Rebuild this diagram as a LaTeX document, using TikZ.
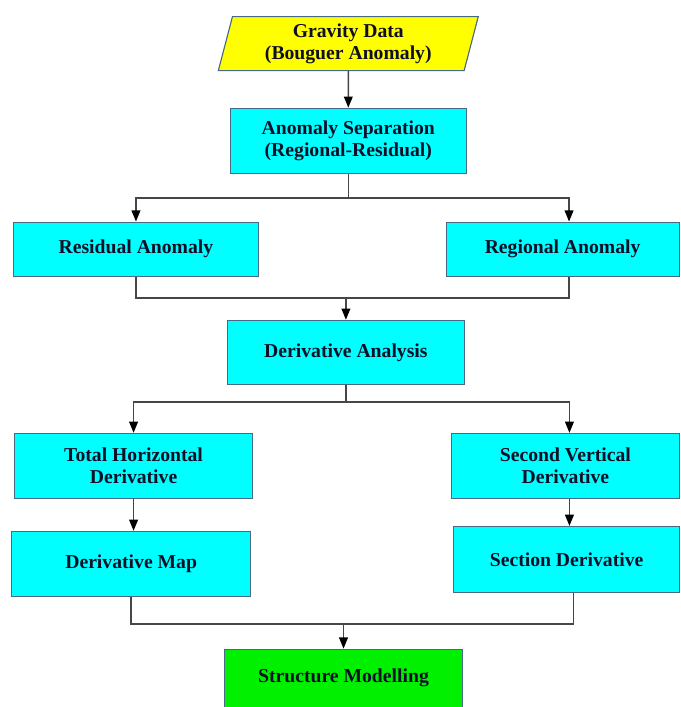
\documentclass[tikz,border=0pt]{standalone}
\usepackage{fontspec}
\setmainfont{Liberation Serif}
\usetikzlibrary{positioning,shapes.geometric,arrows.meta}

\definecolor{boxcyan}{RGB}{0,255,255}
\definecolor{boxyellow}{RGB}{255,255,0}
\definecolor{boxgreen}{RGB}{0,240,0}
\definecolor{boxedge}{RGB}{70,105,135}
\definecolor{linkgray}{RGB}{70,70,70}
\definecolor{textnavy}{RGB}{15,15,40}

\tikzstyle{box} = [rectangle, minimum width=5.95cm, minimum height=1.625cm, text centered, align=center, fill=boxcyan, draw=boxedge, line width=0.8pt, text=textnavy, font=\fontsize{14}{15.6}\selectfont\bfseries]
\tikzstyle{data} = [box, trapezium, trapezium left angle=74, trapezium right angle=106, trapezium stretches body, minimum width=6.5cm, minimum height=1.35cm, fill=boxyellow]
\tikzstyle{result} = [box, fill=boxgreen, minimum height=1.45cm]
\tikzstyle{line} = [draw=linkgray, line width=1pt]
\tikzstyle{arrow} = [line, -{Triangle[length=0.28cm,width=0.22cm,color=black]}]

\begin{document}
\begin{tikzpicture}
  \useasboundingbox (-8.71,1.09) rectangle (8.31,-16.59);

  \node (grav) [data] {Gravity Data\\(Bouguer Anomaly)};
  \node (sep) [box, below of=grav, yshift=-1.43cm, minimum width=5.9cm] {Anomaly Separation\\(Regional-Residual)};
  \node (resid) [box, below of=sep, xshift=-5.31cm, yshift=-1.71cm, minimum width=6.125cm, minimum height=1.35cm] {Residual Anomaly};
  \node (region) [box, below of=sep, xshift=5.36cm, yshift=-1.71cm, minimum width=5.825cm, minimum height=1.35cm] {Regional Anomaly};
  \node (danal) [box, below of=sep, xshift=-0.06cm, yshift=-4.29cm, minimum width=5.925cm, minimum height=1.6cm] {Derivative Analysis};
  \node (thd) [box, below of=danal, xshift=-5.31cm, yshift=-1.84cm] {Total Horizontal\\Derivative};
  \node (svd) [box, below of=danal, xshift=5.49cm, yshift=-1.84cm, minimum width=5.7cm] {Second Vertical\\Derivative};
  \node (dmap) [box, below of=thd, xshift=-0.06cm, yshift=-1.45cm, minimum width=5.975cm] {Derivative Map};
  \node (sect) [box, below of=svd, xshift=0.03cm, yshift=-1.34cm, minimum width=5.65cm, minimum height=1.65cm] {Section Derivative};
  \node (strm) [result, below of=danal, xshift=-0.06cm, yshift=-7.15cm] {Structure Modelling};

  % split and merge levels
  \coordinate (split1) at ([yshift=-0.6cm]sep.south);
  \coordinate (merge1) at ([yshift=-0.53cm]resid.south);
  \coordinate (split2) at ([yshift=-0.43cm]danal.south);
  \coordinate (merge2) at ([yshift=-0.68cm]dmap.south);

  \draw [arrow] (grav) -- (sep);
  \draw [line] (sep.south) -- (split1);
  \draw [arrow] (split1) -| (resid.north);
  \draw [arrow] (split1) -| ([xshift=0.16cm]region.north);
  \draw [line] (resid.south) |- (merge1) -| ([xshift=0.16cm]region.south);
  \draw [arrow] (merge1 -| danal.north) -- (danal.north);
  \draw [line] (danal.south) -- (split2);
  \draw [arrow] (split2) -| (thd.north);
  \draw [arrow] (split2) -| ([xshift=0.1cm]svd.north);
  \draw [arrow] (thd.south) -- (thd.south |- dmap.north);
  \draw [arrow] ([xshift=0.1cm]svd.south) -- ([xshift=0.1cm]svd.south |- sect.north);
  \draw [line] (dmap.south) |- (merge2) -| ([xshift=0.17cm]sect.south);
  \draw [arrow] (merge2 -| strm.north) -- (strm.north);
\end{tikzpicture}
\end{document}
